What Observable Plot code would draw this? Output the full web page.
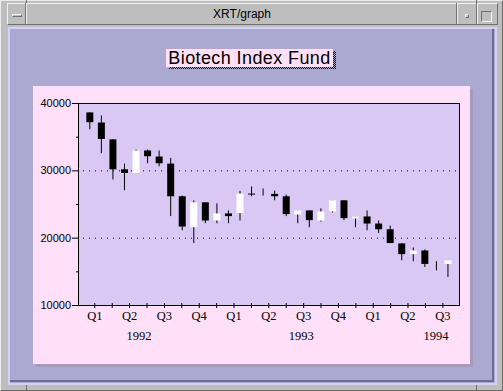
<!DOCTYPE html>
<html><head><meta charset="utf-8">
<script src="https://cdn.jsdelivr.net/npm/d3@7"></script>
<script src="https://cdn.jsdelivr.net/npm/@observablehq/plot@0.6"></script>
<style>
html,body{margin:0;padding:0;}
body{width:503px;height:391px;overflow:hidden;position:relative;background:#bebebe;font-family:"Liberation Sans",Arial,sans-serif;}
.abs{position:absolute;box-sizing:border-box;}
</style></head><body>
<!-- window frame -->
<div class="abs" style="left:0;top:0;width:503px;height:391px;border-top:1px solid #ececec;border-left:1px solid #ececec;border-right:1px solid #6a6a6a;border-bottom:1px solid #6a6a6a;"></div>
<div class="abs" style="left:26px;top:0;width:1px;height:3px;background:#6a6a6a"></div>
<div class="abs" style="left:476px;top:0;width:1px;height:3px;background:#6a6a6a"></div>
<div class="abs" style="left:26px;top:385px;width:1px;height:6px;background:#6a6a6a"></div>
<div class="abs" style="left:476px;top:385px;width:1px;height:6px;background:#6a6a6a"></div>
<!-- title bar -->
<div class="abs" style="left:7px;top:3px;width:491px;height:22px;border-top:1px solid #f0f0f0;border-left:1px solid #f0f0f0;border-bottom:1px solid #707070;border-right:1px solid #707070;"></div>
<div class="abs" style="left:25px;top:3px;width:1px;height:22px;background:#707070"></div>
<div class="abs" style="left:26px;top:4px;width:1px;height:20px;background:#f0f0f0"></div>
<div class="abs" style="left:12px;top:14px;width:10px;height:3px;background:#bebebe;border-top:1px solid #f4f4f4;border-left:1px solid #f4f4f4;border-bottom:1px solid #707070;border-right:1px solid #707070;"></div>
<div class="abs" style="left:456px;top:3px;width:1px;height:22px;background:#707070"></div>
<div class="abs" style="left:457px;top:4px;width:1px;height:20px;background:#f0f0f0"></div>
<div class="abs" style="left:476px;top:3px;width:1px;height:22px;background:#707070"></div>
<div class="abs" style="left:477px;top:4px;width:1px;height:20px;background:#f0f0f0"></div>
<div class="abs" style="left:465px;top:14px;width:4px;height:4px;border-top:1px solid #f4f4f4;border-left:1px solid #f4f4f4;border-bottom:1px solid #707070;border-right:1px solid #707070;"></div>
<div class="abs" style="left:481px;top:11px;width:11px;height:11px;border-top:1px solid #707070;border-left:1px solid #707070;border-bottom:1px solid #f4f4f4;border-right:1px solid #f4f4f4;"></div>
<div class="abs" style="left:0;top:4px;width:503px;text-align:center;font-size:12px;line-height:20px;color:#000;padding-right:19px;">XRT/graph</div>
<!-- client area -->
<div class="abs" style="left:8px;top:27px;width:489px;height:358px;background:#aba9d1;border:2px solid #d4d2f4;"></div>
<div class="abs" style="left:10px;top:29px;width:484px;height:353px;border-right:2px solid #6c6a98;border-bottom:2px solid #6c6a98;"></div>
<!-- title box -->
<div class="abs" style="left:169px;top:51px;width:167px;height:18px;background:repeating-conic-gradient(#000 0 25%, #aba9d1 0 50%) 0 0/2px 2px;"></div>
<div class="abs" style="left:166px;top:49px;width:167px;height:18px;background:#ffe0f8;"></div>
<div class="abs" style="left:166px;top:48px;width:167px;height:20px;text-align:center;font-size:18px;letter-spacing:0.4px;line-height:20px;color:#000;">Biotech Index Fund</div>
<!-- chart panel -->
<div class="abs" style="left:33px;top:86px;width:437px;height:278px;background:#ffe0f8;box-shadow:3px 3px 0 #a69abb;"></div>
<div id="chart" class="abs" style="left:33px;top:86px;width:437px;height:278px;"></div>
<script>
// month index (Jan 1992 = 0)
const monthIndex = [0,1,2,3,4,5,6,7,8,9,10,11,12,13,14,15,16,17,18,19,20,21,22,23,24,25,26,27,28,29,30,31];
const open  = [38600,37100,34600,30150,29600,32950,32050,31000,26150,21550,25250,22550,23600,23650,26550,26800,26500,26150,23450,24050,22550,23900,25550,22850,23150,22100,21250,19150,17550,18100,15800,16100];
const high  = [38600,38150,34600,31000,33100,33100,32950,31850,26250,25550,25250,25100,24050,26950,27600,27300,27000,26400,24050,24050,24350,25550,25550,23150,24050,22550,21800,19150,18550,18250,16500,16650];
const low   = [36100,32550,28650,27050,29600,31050,30600,23200,21100,19200,22150,22150,22150,22550,26150,26250,25550,23200,22150,21550,22400,23750,22600,21550,21100,20700,19200,16650,16500,15650,15150,14150];
const close = [37150,34650,30150,29600,32950,32100,31050,26150,21650,25250,22550,23600,23200,26550,26400,26800,26150,23500,24050,22600,23900,25550,22900,23150,22100,21250,19200,17550,18100,16100,15800,16650];

const yMajor = [10000,20000,30000,40000];
const yMinor = [15000,25000,35000];
const gridValues = [20000,30000];
const quarterLabels = ["Q1","Q2","Q3","Q4","Q1","Q2","Q3","Q4","Q1","Q2","Q3"];
const quarterPos = [0.43,3.44,6.46,9.47,12.48,15.49,18.51,21.52,24.53,27.54,30.56];
const minorPos = [1.94,4.95,7.96,10.98,13.99,17.0,20.01,23.03,26.04,29.05];
const yearLabels = ["1992","1993","1994"];
const yearPos = [4.26,18.3,29.97];

const data = monthIndex.map((i, k) => ({i, open: open[k], high: high[k], low: low[k], close: close[k]}));
const falling = data.filter(d => d.close < d.open);
const rising = data.filter(d => d.close > d.open);

const chart = Plot.plot({
  width: 437, height: 278,
  marginLeft: 45, marginTop: 17, marginRight: 11, marginBottom: 59,
  style: {background: "transparent", color: "black", fontFamily: "'Liberation Sans', Arial, sans-serif", fontSize: "11px", overflow: "visible"},
  x: {domain: [-0.98, 32.0], label: null},
  y: {domain: [10000, 40000], label: null},
  marks: [
    Plot.frame({fill: "#dac8f4", stroke: null}),
    Plot.ruleY(gridValues, {stroke: "black", strokeDasharray: "1,5", strokeDashoffset: 1}),
    Plot.ruleX(data, {x: "i", y1: "low", y2: "high", stroke: "black", strokeWidth: 1}),
    Plot.ruleX(falling, {x: "i", y1: "open", y2: "close", stroke: "black", strokeWidth: 7}),
    Plot.ruleX(rising, {x: "i", y1: "open", y2: "close", stroke: "white", strokeWidth: 7}),
    Plot.frame({stroke: "black"}),
    Plot.axisY(yMajor, {tickSize: 6, tickPadding: 1.5, tickFormat: d3.format("d"), fontSize: 11, label: null}),
    Plot.axisY(yMinor, {tickSize: 3, dx: 1, tickFormat: () => "", label: null}),
    Plot.axisX(quarterPos.concat(minorPos), {tickSize: 5, dy: -2, tickFormat: () => "", label: null}),
    Plot.text(quarterPos, {x: d => d, text: (d, i) => quarterLabels[i], frameAnchor: "bottom", dy: 14, fontFamily: "'Liberation Serif', 'Times New Roman', serif", fontSize: 12.5}),
    Plot.text(yearPos, {x: d => d, text: (d, i) => yearLabels[i], frameAnchor: "bottom", dy: 34, fontFamily: "'Liberation Serif', 'Times New Roman', serif", fontSize: 12.5})
  ]
});
document.getElementById("chart").appendChild(chart);
</script>
</body></html>
